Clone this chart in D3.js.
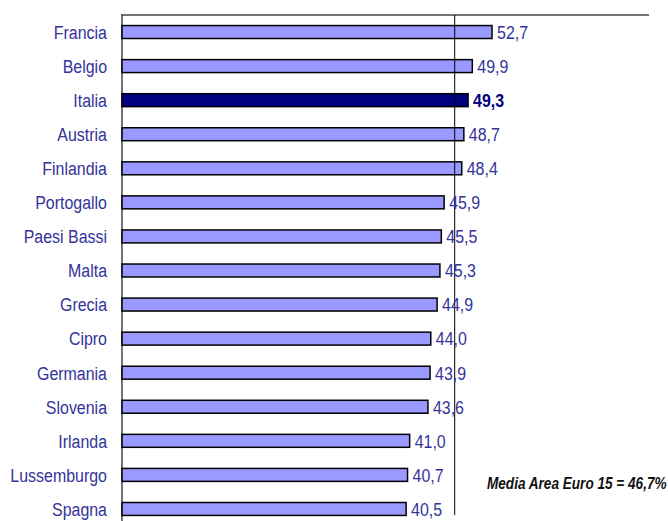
<!DOCTYPE html>
<html>
<head>
<meta charset="utf-8">
<script src="https://cdn.jsdelivr.net/npm/d3@7"></script>
<style>
  body { margin: 0; background: #fff; }
  svg { display: block; }
</style>
</head>
<body>
<svg width="668" height="521"></svg>
<script>
// Data
const countries = ["Francia", "Belgio", "Italia", "Austria", "Finlandia", "Portogallo", "Paesi Bassi",
  "Malta", "Grecia", "Cipro", "Germania", "Slovenia", "Irlanda", "Lussemburgo", "Spagna"];
const values = [52.7, 49.9, 49.3, 48.7, 48.4, 45.9, 45.5, 45.3, 44.9, 44.0, 43.9, 43.6, 41.0, 40.7, 40.5];
const highlight = "Italia";
const mediaLabel = "Media Area Euro 15 = 46,7%";
// where the average line sits on the value axis
const mediaLineAt = 47.4;
const xDomain = [0, 75];

const data = countries.map((c, i) => ({ name: c, value: values[i] }));

// no Arial Narrow here, so squeeze Liberation Sans horizontally
const fontFam = "'Liberation Sans', Arial, sans-serif";
const squeeze = 0.84;
const labelColor = "#333399";

const svg = d3.select("svg");

// plot area
const plotLeft = 121, plotRight = 649, plotTop = 15, plotBottom = 526;

const x = d3.scaleLinear().domain(xDomain).range([plotLeft, plotRight]);
const y = d3.scaleBand().domain(countries).range([plotTop, plotBottom]).paddingInner(0.62).paddingOuter(0.31);

// frame lines: top and left
svg.append("line")
    .attr("x1", plotLeft).attr("x2", plotRight)
    .attr("y1", plotTop).attr("y2", plotTop)
    .attr("stroke", "#444").attr("stroke-width", 1.5);

svg.append("line")
    .attr("x1", plotLeft + 1).attr("x2", plotLeft + 1)
    .attr("y1", plotTop).attr("y2", plotBottom)
    .attr("stroke", "#444").attr("stroke-width", 1.5);

// bars
svg.selectAll("rect.bar")
    .data(data)
    .join("rect")
    .attr("class", "bar")
    .attr("x", x(0) + 1)
    .attr("y", d => y(d.name))
    .attr("width", d => x(d.value) - x(0) - 1)
    .attr("height", y.bandwidth())
    .attr("fill", d => d.name === highlight ? "#000080" : "#9999ff")
    .attr("stroke", "#000")
    .attr("stroke-width", 1.5);

// average line
svg.append("line")
    .attr("x1", x(mediaLineAt)).attr("x2", x(mediaLineAt))
    .attr("y1", plotTop).attr("y2", 515)
    .attr("stroke", "#000").attr("stroke-width", 1);

// category labels
svg.selectAll("text.cat")
    .data(data)
    .join("text")
    .attr("class", "cat")
    .attr("transform", d => `translate(107, ${y(d.name) + y.bandwidth() / 2}) scale(${squeeze}, 1)`)
    .attr("dy", "0.36em")
    .attr("text-anchor", "end")
    .style("font-family", fontFam)
    .style("font-size", "19px")
    .style("fill", labelColor)
    .text(d => d.name);

// value labels
svg.selectAll("text.val")
    .data(data)
    .join("text")
    .attr("class", "val")
    .attr("transform", d => `translate(${x(d.value) + 5}, ${y(d.name) + y.bandwidth() / 2}) scale(${squeeze}, 1)`)
    .attr("dy", "0.36em")
    .style("font-family", fontFam)
    .style("font-size", "19px")
    .style("font-weight", d => d.name === highlight ? "bold" : "normal")
    .style("fill", d => d.name === highlight ? "#000080" : labelColor)
    .text(d => d.value.toFixed(1).replace(".", ","));

// average note
svg.append("text")
    .attr("transform", `translate(487, 483) scale(0.8, 1)`)
    .attr("dy", "0.36em")
    .style("font-family", fontFam)
    .style("font-size", "17px")
    .style("font-style", "italic")
    .style("font-weight", "bold")
    .style("fill", "#111")
    .text(mediaLabel);
</script>
</body>
</html>
